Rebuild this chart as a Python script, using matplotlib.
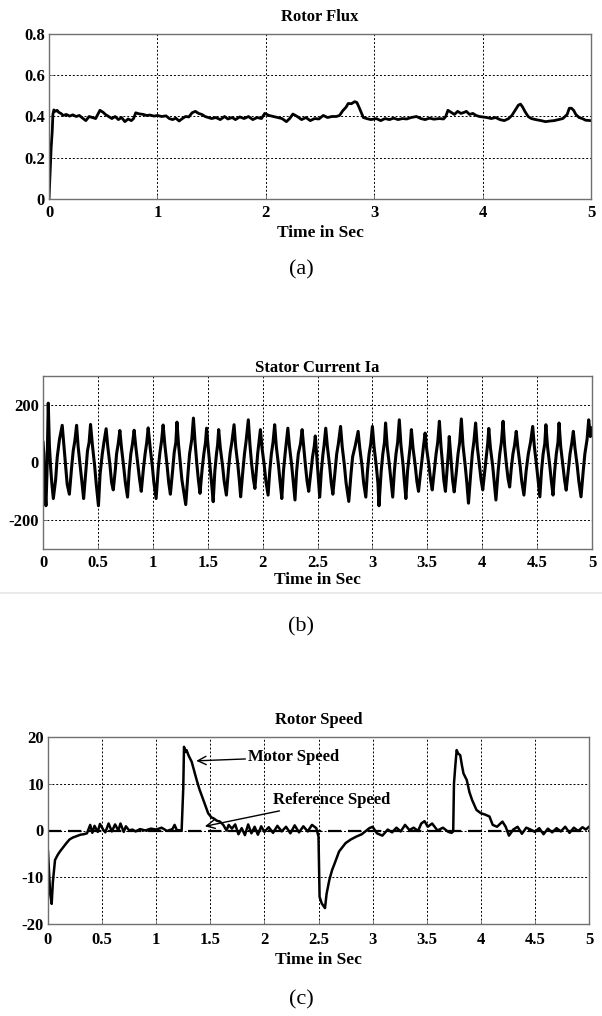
import matplotlib
matplotlib.use("Agg")
import matplotlib.pyplot as plt
from matplotlib.lines import Line2D

plt.rcParams['font.family'] = ['Liberation Serif', 'DejaVu Serif']

# ---------------- data ----------------
# (a) Rotor flux: (time, flux) samples
flux_pts = [(0, 0), (0.01, 0.12), (0.02, 0.25), (0.03, 0.33), (0.036, 0.41), (0.045, 0.432),
            (0.06, 0.425), (0.075, 0.43), (0.09, 0.42), (0.11, 0.415), (0.13, 0.405), (0.16, 0.41),
            (0.19, 0.402), (0.22, 0.408), (0.25, 0.40), (0.28, 0.405), (0.31, 0.392), (0.34, 0.38),
            (0.37, 0.40), (0.40, 0.395), (0.43, 0.39), (0.45, 0.41), (0.47, 0.43), (0.50, 0.42),
            (0.52, 0.41), (0.55, 0.40), (0.58, 0.39), (0.61, 0.40), (0.64, 0.385), (0.67, 0.395),
            (0.70, 0.375), (0.73, 0.388), (0.76, 0.38), (0.78, 0.39), (0.80, 0.418), (0.83, 0.413),
            (0.87, 0.41), (0.90, 0.405), (0.93, 0.407), (0.97, 0.402), (1.00, 0.405), (1.04, 0.40),
            (1.08, 0.403), (1.11, 0.39), (1.14, 0.385), (1.17, 0.392), (1.20, 0.378), (1.23, 0.39),
            (1.26, 0.40), (1.29, 0.398), (1.32, 0.418), (1.35, 0.425), (1.38, 0.415), (1.41, 0.41),
            (1.44, 0.40), (1.47, 0.395), (1.50, 0.39), (1.54, 0.395), (1.58, 0.385), (1.62, 0.40),
            (1.65, 0.388), (1.69, 0.395), (1.72, 0.385), (1.76, 0.398), (1.80, 0.39), (1.84, 0.40),
            (1.88, 0.385), (1.92, 0.395), (1.96, 0.39), (1.99, 0.415), (2.03, 0.405), (2.07, 0.40),
            (2.11, 0.395), (2.15, 0.39), (2.19, 0.375), (2.22, 0.39), (2.25, 0.412), (2.29, 0.40),
            (2.33, 0.385), (2.37, 0.395), (2.41, 0.38), (2.45, 0.39), (2.49, 0.388), (2.53, 0.405),
            (2.57, 0.395), (2.61, 0.40), (2.65, 0.40), (2.68, 0.405), (2.71, 0.428), (2.74, 0.445),
            (2.76, 0.463), (2.79, 0.462), (2.82, 0.472), (2.84, 0.468), (2.86, 0.445), (2.88, 0.42),
            (2.90, 0.395), (2.93, 0.39), (2.97, 0.385), (3.02, 0.39), (3.06, 0.38), (3.10, 0.39),
            (3.14, 0.385), (3.18, 0.392), (3.22, 0.385), (3.26, 0.39), (3.30, 0.388), (3.34, 0.395),
            (3.39, 0.40), (3.43, 0.39), (3.47, 0.385), (3.51, 0.392), (3.55, 0.387), (3.60, 0.39),
            (3.64, 0.388), (3.66, 0.40), (3.68, 0.43), (3.71, 0.42), (3.74, 0.41), (3.77, 0.425),
            (3.80, 0.415), (3.83, 0.42), (3.85, 0.425), (3.88, 0.41), (3.91, 0.415), (3.94, 0.405),
            (3.97, 0.40), (4.00, 0.398), (4.04, 0.395), (4.08, 0.39), (4.12, 0.395), (4.16, 0.385),
            (4.20, 0.38), (4.24, 0.39), (4.27, 0.405), (4.30, 0.43), (4.33, 0.455), (4.35, 0.46),
            (4.37, 0.445), (4.39, 0.425), (4.42, 0.40), (4.45, 0.39), (4.49, 0.385), (4.54, 0.38),
            (4.58, 0.375), (4.62, 0.378), (4.66, 0.38), (4.70, 0.385), (4.74, 0.39), (4.78, 0.41),
            (4.80, 0.44), (4.82, 0.44), (4.84, 0.43), (4.86, 0.41), (4.89, 0.395), (4.92, 0.39),
            (4.95, 0.382), (5.0, 0.38)]

# (b) Stator current Ia: vertices (time, current)
ia_t = [0.0, 0.008, 0.015, 0.027, 0.036,
        0.048, 0.058, 0.070, 0.080, 0.094, 0.115, 0.13, 0.15,
        0.175, 0.19, 0.205, 0.22, 0.24, 0.26, 0.275, 0.29,
        0.306, 0.32, 0.34, 0.355, 0.37, 0.39, 0.405, 0.42,
        0.433, 0.45, 0.47, 0.485, 0.505, 0.52, 0.54, 0.555,
        0.575, 0.59, 0.61, 0.625, 0.64, 0.66, 0.67, 0.685,
        0.70, 0.715, 0.735, 0.75, 0.77, 0.785, 0.80, 0.815,
        0.83, 0.845, 0.865, 0.88, 0.895, 0.915, 0.93, 0.945,
        0.958, 0.975, 0.995, 1.01, 1.03, 1.05, 1.065, 1.08,
        1.094, 1.11, 1.13, 1.145, 1.16, 1.18, 1.195, 1.21,
        1.22, 1.235, 1.25, 1.265, 1.30, 1.32, 1.335, 1.355,
        1.37, 1.385, 1.40, 1.415, 1.43, 1.45, 1.465, 1.48,
        1.49, 1.505, 1.52, 1.535, 1.55, 1.565, 1.58, 1.59,
        1.60, 1.615, 1.635, 1.65, 1.67, 1.69, 1.705, 1.72,
        1.74, 1.755, 1.775, 1.79, 1.80, 1.82, 1.835, 1.85,
        1.87, 1.885, 1.90, 1.915, 1.93, 1.945, 1.955, 1.965,
        1.98, 1.995, 2.015, 2.03, 2.05, 2.065, 2.08, 2.095,
        2.11, 2.125, 2.145, 2.16, 2.175, 2.19, 2.205, 2.215,
        2.23, 2.245, 2.265, 2.28, 2.295, 2.31, 2.325, 2.345,
        2.36, 2.375, 2.39, 2.405, 2.42, 2.44, 2.455, 2.47,
        2.48, 2.49, 2.50, 2.51, 2.52, 2.535, 2.55, 2.56,
        2.575, 2.59, 2.61, 2.625, 2.64, 2.66, 2.675, 2.69,
        2.71, 2.725, 2.745, 2.76, 2.785, 2.805, 2.82, 2.845,
        2.87, 2.885, 2.905, 2.92, 2.94, 2.955, 2.97, 2.985,
        3.00, 3.015, 3.035, 3.05, 3.06, 3.08, 3.095, 3.11,
        3.12, 3.135, 3.155, 3.17, 3.185, 3.20, 3.215, 3.23,
        3.245, 3.26, 3.28, 3.29, 3.305, 3.32, 3.335, 3.345,
        3.355, 3.37, 3.39, 3.405, 3.42, 3.44, 3.455, 3.465,
        3.48, 3.495, 3.515, 3.53, 3.545, 3.565, 3.58, 3.595,
        3.61, 3.625, 3.64, 3.65, 3.665, 3.68, 3.69, 3.695,
        3.70, 3.71, 3.72, 3.73, 3.745, 3.765, 3.78, 3.795,
        3.81, 3.825, 3.845, 3.86, 3.875, 3.895, 3.91, 3.925,
        3.94, 3.955, 3.975, 3.99, 4.005, 4.025, 4.04, 4.05,
        4.06, 4.075, 4.095, 4.11, 4.125, 4.145, 4.16, 4.175,
        4.19, 4.205, 4.22, 4.235, 4.25, 4.265, 4.28, 4.295,
        4.31, 4.325, 4.345, 4.36, 4.38, 4.40, 4.42, 4.44,
        4.46, 4.475, 4.495, 4.51, 4.525, 4.54, 4.555, 4.57,
        4.58, 4.595, 4.615, 4.63, 4.645, 4.66, 4.675, 4.69,
        4.70, 4.715, 4.735, 4.75, 4.765, 4.785, 4.80, 4.815,
        4.83, 4.845, 4.865, 4.88, 4.90, 4.92, 4.935, 4.955,
        4.97, 4.985, 5.0]
ia_v = [70, 30, -80, -150, -40,
        206, 60, -20, -70, -125, -60, 20, 80,
        129, 60, -10, -75, -110, -20, 40, 75,
        129, 55, -15, -70, -125, -30, 40, 70,
        132, 60, -10, -75, -150, -40, 30, 70,
        117, 55, -10, -70, -95, -20, 30, 65,
        111, 50, -15, -70, -120, -30, 30, 65,
        112, 55, -10, -60, -100, -20, 30, 70,
        120, 55, -10, -70, -125, -20, 35, 75,
        130, 60, -10, -70, -110, -30, 35, 70,
        140, 60, 0, -60, -146, -40, 30, 80,
        154, 70, 0, -60, -107, -20, 30, 70,
        119, 50, -10, -70, -136, -30, 30, 60,
        114, 50, -10, -65, -113, -20, 35, 70,
        131, 55, -10, -70, -119, -30, 30, 75,
        148, 60, -5, -55, -90, -20, 30, 65,
        114, 50, -10, -65, -113, -30, 30, 70,
        131, 55, -10, -70, -125, -30, 30, 65,
        119, 55, -10, -70, -130, -30, 30, 65,
        114, 50, -10, -65, -100, -30, 20, 55,
        92, 40, -10, -60, -120, -30, 30, 60,
        119, 55, -10, -70, -110, -30, 30, 65,
        125, 55, -10, -70, -135, -40, 20, 60,
        108, 50, -10, -70, -120, -30, 30, 65,
        125, 55, -10, -70, -150, -30, 30, 70,
        137, 55, -10, -65, -120, -30, 30, 70,
        148, 60, -10, -60, -125, -30, 25, 60,
        114, 50, -10, -65, -100, -30, 25, 55,
        102, 45, -10, -60, -95, -25, 30, 70,
        143, 55, -10, -60, -100, -25, 20, 50,
        90, 40, -10, -60, -102, -30, 30, 70,
        151, 60, -10, -70, -141, -40, 30, 75,
        137, 55, -10, -60, -95, -25, 30, 65,
        118, 50, -10, -70, -130, -30, 30, 70,
        143, 55, -5, -55, -85, -20, 30, 60,
        108, 50, -10, -65, -113, -30, 30, 70,
        125, 55, -10, -65, -119, -30, 30, 65,
        131, 55, -10, -65, -113, -30, 30, 70,
        137, 55, -10, -60, -96, -25, 30, 65,
        108, 50, -10, -65, -119, -30, 30, 80,
        148, 90, 120]

# (c) Rotor speed: (time, speed) samples
speed_pts = [(0.0, -4.5), (0.01, -9.0), (0.02, -13.5), (0.034, -15.7), (0.045, -11.0),
             (0.065, -6.3), (0.09, -5.2), (0.11, -4.5), (0.14, -3.6), (0.17, -2.7), (0.20, -1.9),
             (0.23, -1.5), (0.265, -1.2), (0.30, -0.9), (0.33, -0.8), (0.36, -0.6), (0.39, 1.2),
             (0.41, -0.5), (0.43, 1.0), (0.46, -0.3), (0.48, 1.4), (0.51, 0.2), (0.53, -0.4),
             (0.56, 1.5), (0.59, -0.2), (0.62, 1.3), (0.65, 0.0), (0.67, 1.5), (0.70, -0.3),
             (0.72, 0.9), (0.75, 0.0), (0.78, 0.2), (0.81, -0.2), (0.85, 0.3), (0.90, 0.0),
             (0.95, 0.4), (1.00, 0.2), (1.05, 0.6), (1.10, -0.1), (1.15, 0.3), (1.17, 1.2),
             (1.19, 0.1), (1.235, 0.0), (1.25, 9.0), (1.257, 17.9), (1.27, 16.8), (1.28, 17.2),
             (1.30, 16.0), (1.328, 14.7), (1.35, 12.8), (1.374, 10.8), (1.40, 8.8), (1.436, 6.5),
             (1.46, 5.0), (1.48, 3.7), (1.51, 2.8), (1.53, 2.6), (1.56, 2.1), (1.59, 1.9),
             (1.62, 1.2), (1.65, 0.0), (1.67, 1.2), (1.70, 0.4), (1.73, 1.3), (1.76, -0.8),
             (1.79, 0.5), (1.82, -1.0), (1.85, 1.3), (1.88, -0.6), (1.91, 0.8), (1.94, -0.9),
             (1.97, 0.9), (2.00, -0.3), (2.04, 0.7), (2.08, -0.5), (2.12, 1.0), (2.16, -0.2),
             (2.20, 0.8), (2.24, -0.6), (2.28, 1.1), (2.32, -0.4), (2.36, 0.9), (2.40, -0.2),
             (2.44, 1.2), (2.48, 0.5), (2.50, -1.3), (2.51, -14.2), (2.53, -15.6), (2.56, -16.6),
             (2.575, -13.5), (2.60, -10.6), (2.625, -8.5), (2.65, -7.0), (2.69, -4.5),
             (2.72, -3.6), (2.75, -2.7), (2.80, -1.9), (2.85, -1.3), (2.90, -0.8), (2.97, 0.5),
             (3.00, 0.8), (3.04, -0.6), (3.09, -1.1), (3.14, 0.2), (3.18, -0.4), (3.22, 0.6),
             (3.26, -0.2), (3.30, 1.2), (3.34, 0.1), (3.38, 0.6), (3.42, -0.1), (3.45, 1.5),
             (3.48, 2.0), (3.51, 0.8), (3.55, 1.5), (3.60, 0.0), (3.65, 0.6), (3.70, -0.3),
             (3.73, -0.5), (3.745, -0.2), (3.752, 10.0), (3.765, 14.0), (3.777, 17.2),
             (3.79, 16.5), (3.81, 16.1), (3.825, 14.0), (3.84, 12.2), (3.87, 10.8), (3.895, 8.2),
             (3.92, 6.5), (3.96, 4.4), (4.00, 3.7), (4.04, 3.4), (4.08, 3.0), (4.11, 1.2),
             (4.15, 0.8), (4.20, 1.9), (4.23, 0.8), (4.26, -1.1), (4.30, 0.2), (4.34, 0.8),
             (4.38, -0.7), (4.42, 0.6), (4.46, 0.2), (4.50, -0.3), (4.54, 0.5), (4.58, -0.8),
             (4.62, 0.4), (4.66, -0.4), (4.70, 0.5), (4.74, -0.2), (4.78, 0.8), (4.82, -0.5),
             (4.86, 0.6), (4.90, -0.1), (4.94, 0.7), (4.97, 0.2), (5.0, 0.8)]

ref_t = [0.0, 5.0]
ref_v = [0.0, 0.0]

flux_t = [p[0] for p in flux_pts]
flux_v = [p[1] for p in flux_pts]
spd_t = [p[0] for p in speed_pts]
spd_v = [p[1] for p in speed_pts]
n_ia = min(len(ia_t), len(ia_v))

# ---------------- figure ----------------
W, H = 602, 1016
fig = plt.figure(figsize=(W / 100, H / 100), dpi=100)
fig.patch.set_facecolor('white')


def frac(l, t, r, b):
    return [l / W, 1 - b / H, (r - l) / W, (b - t) / H]


def style(ax, title, pad, xpad=4, lpad=1):
    ax.set_title(title, fontsize=12, fontweight='bold', pad=pad)
    ax.set_xlabel('Time in Sec', fontsize=12.5, fontweight='bold', labelpad=lpad)
    ax.grid(True, color='black', linestyle=(0, (2, 2)), linewidth=0.7)
    for s in ax.spines.values():
        s.set_color('#707070')
        s.set_linewidth(1.0)
    ax.tick_params(direction='in', length=3, width=0.6, color='#707070')
    ax.tick_params(axis='x', pad=xpad)
    ax.tick_params(axis='y', pad=3)
    for lab in ax.get_xticklabels() + ax.get_yticklabels():
        lab.set_fontweight('bold')
        lab.set_fontsize(12)


x_half = [0, 0.5, 1, 1.5, 2, 2.5, 3, 3.5, 4, 4.5, 5]
x_half_lab = ['0', '0.5', '1', '1.5', '2', '2.5', '3', '3.5', '4', '4.5', '5']

# (a)
ax1 = fig.add_axes(frac(49, 34, 591, 199))
ax1.plot(flux_t, flux_v, color='black', linewidth=2.0)
ax1.set_xlim(0, 5)
ax1.set_ylim(0, 0.8)
ax1.set_xticks([0, 1, 2, 3, 4, 5])
ax1.set_xticklabels(['0', '1', '2', '3', '4', '5'])
ax1.set_yticks([0, 0.2, 0.4, 0.6, 0.8])
ax1.set_yticklabels(['0', '0.2', '0.4', '0.6', '0.8'])
style(ax1, 'Rotor Flux', 9, xpad=4, lpad=3)

# (b)
ax2 = fig.add_axes(frac(43, 376, 592, 549))
ax2.plot(ia_t[:n_ia], ia_v[:n_ia], color='black', linewidth=2.2)
ax2.set_xlim(0, 5)
ax2.set_ylim(-300, 300)
ax2.set_xticks(x_half)
ax2.set_xticklabels(x_half_lab)
ax2.set_yticks([-200, 0, 200])
ax2.set_yticklabels(['-200', '0', '200'])
style(ax2, 'Stator Current Ia', 3, xpad=4, lpad=1)

# (c)
ax3 = fig.add_axes(frac(48, 737, 589, 924))
ax3.plot(ref_t, ref_v, color='black', linewidth=1.6, linestyle=(0, (6, 3)))
ax3.plot(spd_t, spd_v, color='black', linewidth=1.8)
ax3.set_xlim(0, 5)
ax3.set_ylim(-20, 20)
ax3.set_xticks(x_half)
ax3.set_xticklabels(x_half_lab)
ax3.set_yticks([-20, -10, 0, 10, 20])
ax3.set_yticklabels(['-20', '-10', '0', '10', '20'])
style(ax3, 'Rotor Speed', 9, xpad=6, lpad=3)

ax3.annotate('Motor Speed', xy=(1.37, 14.9), xytext=(1.85, 15.7),
             fontsize=12, fontweight='bold', va='center', ha='left',
             arrowprops=dict(arrowstyle='->,head_length=0.5,head_width=0.25',
                             color='black', lw=1.0, shrinkA=0, shrinkB=0))
ax3.annotate('Reference Speed', xy=(1.45, 0.9), xytext=(2.08, 6.5),
             fontsize=12, fontweight='bold', va='center', ha='left',
             arrowprops=dict(arrowstyle='->,head_length=0.5,head_width=0.25',
                             color='black', lw=1.0, shrinkA=0, shrinkB=0))

# panel labels
fig.text(301 / W, 1 - 270 / H, '(a)', fontsize=16, ha='center', va='center')
fig.text(301 / W, 1 - 627 / H, '(b)', fontsize=16, ha='center', va='center')
fig.text(301 / W, 1 - 1000 / H, '(c)', fontsize=16, ha='center', va='center')

# faint separator line
fig.add_artist(Line2D([0, 1], [1 - 593 / H, 1 - 593 / H], color='#e6e6e6', linewidth=1.2,
                      transform=fig.transFigure))

fig.savefig('out.png', dpi=100, facecolor='white')
